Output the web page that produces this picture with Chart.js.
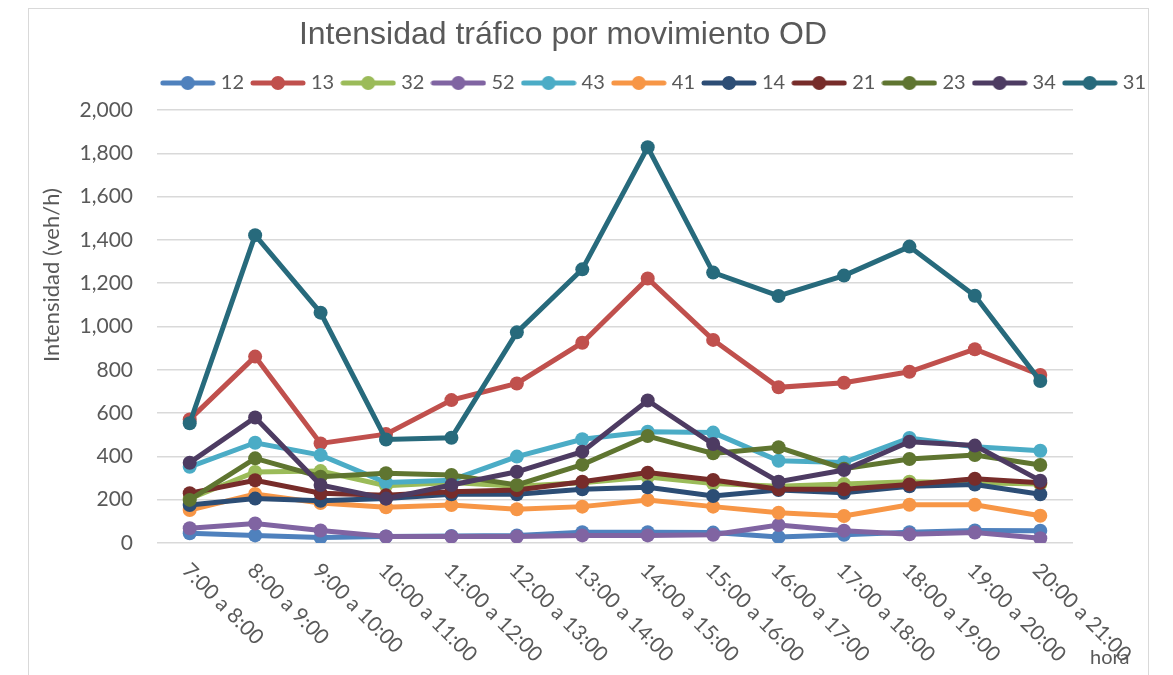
<!DOCTYPE html>
<html lang="es">
<head>
<meta charset="utf-8">
<title>Intensidad tráfico por movimiento OD</title>
<script src="https://cdn.jsdelivr.net/npm/chart.js@4.4.1/dist/chart.umd.min.js"></script>
<style>
  html, body { margin: 0; padding: 0; background: #fff; }
  #wrap { width: 1173px; height: 675px; }
</style>
</head>
<body>
<div id="wrap"><canvas id="odChart" width="1173" height="675"></canvas></div>
<script>
const horas = ['7:00 a 8:00', '8:00 a 9:00', '9:00 a 10:00', '10:00 a 11:00', '11:00 a 12:00',
    '12:00 a 13:00', '13:00 a 14:00', '14:00 a 15:00', '15:00 a 16:00', '16:00 a 17:00',
    '17:00 a 18:00', '18:00 a 19:00', '19:00 a 20:00', '20:00 a 21:00'];

const movimientos = ['12', '13', '32', '52', '43', '41', '14', '21', '23', '34', '31'];
const colores = ['#4F81BD', '#C0504D', '#9BBB59', '#8064A2', '#4BACC6', '#F79646',
    '#2C4D75', '#772C2A', '#5F7530', '#4D3B62', '#276A7C'];

// veh/h por franja horaria
const mov12 = [45, 35, 25, 30, 32, 35, 50, 50, 48, 28, 38, 50, 58, 57];
const mov13 = [571, 861, 460, 503, 660, 737, 925, 1222, 938, 719, 740, 791, 895, 776];
const mov32 = [205, 328, 332, 265, 280, 262, 278, 305, 275, 262, 272, 283, 278, 272];
const mov52 = [68, 90, 58, 30, 30, 30, 35, 35, 38, 83, 57, 40, 48, 22];
const mov43 = [352, 463, 406, 279, 290, 399, 479, 514, 510, 380, 372, 485, 445, 426];
const mov41 = [152, 226, 185, 165, 175, 156, 168, 199, 168, 140, 125, 177, 177, 126];
const mov14 = [175, 205, 195, 205, 225, 225, 248, 257, 217, 245, 232, 262, 270, 225];
const mov21 = [230, 290, 230, 220, 237, 245, 283, 325, 291, 248, 248, 270, 297, 278];
const mov23 = [199, 391, 306, 322, 314, 268, 362, 494, 414, 442, 343, 388, 406, 360];
const mov34 = [371, 580, 268, 205, 268, 329, 422, 658, 457, 283, 337, 468, 450, 288];
const mov31 = [553, 1422, 1064, 478, 486, 973, 1264, 1828, 1249, 1141, 1235, 1369, 1142, 748];

const series = [mov12, mov13, mov32, mov52, mov43, mov41, mov14, mov21, mov23, mov34, mov31];

const yMax = 2000;
const yPaso = 200;

const gris = '#595959';
const fuente = 'Lato, "Open Sans", sans-serif';

// icono de leyenda: trazo con punto en medio
function iconoLeyenda(color) {
    const c = document.createElement('canvas');
    c.width = 56;
    c.height = 16;
    const g = c.getContext('2d');
    g.strokeStyle = color;
    g.lineWidth = 5;
    g.lineCap = 'round';
    g.beginPath();
    g.moveTo(3, 8);
    g.lineTo(53, 8);
    g.stroke();
    g.fillStyle = color;
    g.beginPath();
    g.arc(28, 8, 7, 0, Math.PI * 2);
    g.fill();
    return c;
}
const iconos = colores.map(iconoLeyenda);

// separa un poco más la leyenda del área de trazado
const margenLeyenda = {
    id: 'margenLeyenda',
    beforeInit(chart) {
        const fitOriginal = chart.legend.fit;
        chart.legend.fit = function fit() {
            fitOriginal.bind(chart.legend)();
            this.height += 7;
        };
    }
};

const decoracion = {
    id: 'decoracion',
    beforeDraw(chart) {
        const ctx = chart.ctx;
        ctx.save();
        ctx.strokeStyle = '#d9d9d9';
        ctx.lineWidth = 1;
        ctx.strokeRect(28.5, 8.5, 1120, 700);
        ctx.restore();
    },
    afterDraw(chart) {
        const ctx = chart.ctx;
        const xs = chart.scales.x;
        ctx.save();
        ctx.fillStyle = gris;

        ctx.font = '32px "Liberation Sans", Arial, sans-serif';
        ctx.textAlign = 'center';
        ctx.textBaseline = 'middle';
        ctx.fillText('Intensidad tráfico por movimiento OD', 563, 35);

        ctx.save();
        ctx.translate(52, 275);
        ctx.rotate(-Math.PI / 2);
        ctx.font = '22px ' + fuente;
        ctx.fillText('Intensidad (veh/h)', 0, 0);
        ctx.restore();

        ctx.font = '21px ' + fuente;
        ctx.textAlign = 'left';
        horas.forEach((h, i) => {
            ctx.save();
            ctx.translate(xs.getPixelForTick(i) - 4, xs.top + 24);
            ctx.rotate(Math.PI / 4);
            ctx.fillText(h, 0, 0);
            ctx.restore();
        });

        ctx.font = '20px ' + fuente;
        ctx.fillText('hora', 1090, 658);
        ctx.restore();
    }
};

new Chart(document.getElementById('odChart'), {
    type: 'line',
    data: {
        labels: horas,
        datasets: series.map((valores, i) => ({
            label: movimientos[i],
            data: valores,
            borderColor: colores[i],
            backgroundColor: colores[i],
            pointBackgroundColor: colores[i],
            pointBorderColor: colores[i],
            borderWidth: 5,
            pointRadius: 7,
            pointBorderWidth: 0,
            tension: 0,
            order: series.length - i
        }))
    },
    options: {
        responsive: false,
        animation: false,
        locale: 'en-US',
        layout: {
            padding: { top: 62, left: 30, right: 16, bottom: 0 }
        },
        plugins: {
            tooltip: { enabled: false },
            legend: {
                position: 'top',
                align: 'end',
                labels: {
                    usePointStyle: true,
                    pointStyleWidth: 46,
                    padding: 11,
                    color: gris,
                    font: { size: 20, family: fuente },
                    sort: (a, b) => a.datasetIndex - b.datasetIndex,
                    generateLabels(chart) {
                        const items = Chart.defaults.plugins.legend.labels.generateLabels(chart);
                        items.forEach(item => {
                            item.pointStyle = iconos[item.datasetIndex];
                        });
                        return items;
                    }
                }
            }
        },
        scales: {
            x: {
                offset: true,
                grid: { display: false },
                border: { display: false },
                ticks: { display: false },
                afterFit(scale) {
                    scale.height = 132;
                }
            },
            y: {
                min: 0,
                max: yMax,
                ticks: {
                    stepSize: yPaso,
                    padding: 24,
                    color: gris,
                    font: { size: 21, family: fuente }
                },
                grid: { color: '#d9d9d9', lineWidth: 1.5, drawTicks: false },
                border: { display: false },
                afterFit(scale) {
                    scale.width = 127;
                }
            },
            margen: {
                position: 'right',
                grid: { display: false },
                border: { display: false },
                ticks: { display: false },
                afterFit(scale) {
                    scale.width = 84;
                }
            }
        }
    },
    plugins: [margenLeyenda, decoracion]
});
</script>
</body>
</html>
